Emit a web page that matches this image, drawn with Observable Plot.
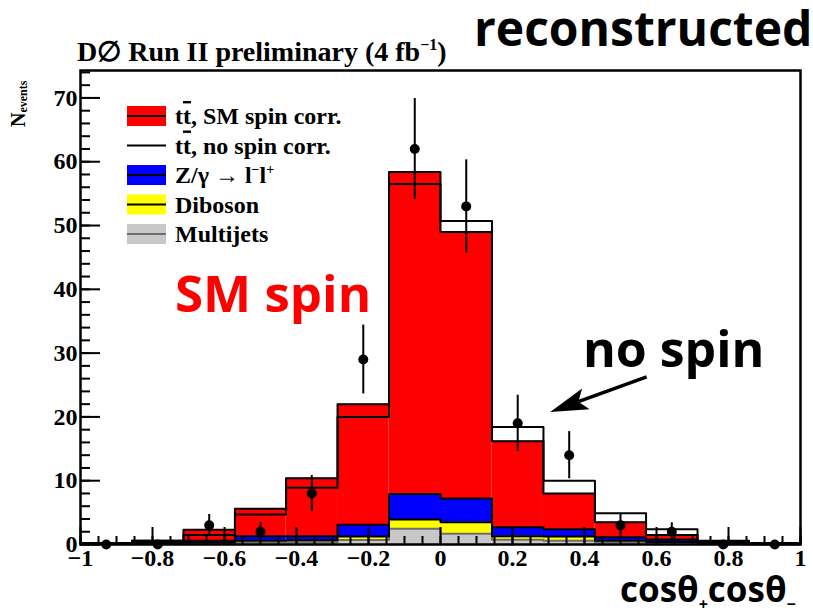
<!DOCTYPE html>
<html>
<head>
<meta charset="utf-8">
<script src="https://cdn.jsdelivr.net/npm/d3@7"></script>
<script src="https://cdn.jsdelivr.net/npm/@observablehq/plot@0.6"></script>
<style>
  body { margin: 0; background: #fff; }
  #chart { position: relative; width: 813px; height: 616px; }
</style>
</head>
<body>
<div id="chart"></div>
<script>
// Bin edges of cosθ+·cosθ− (14 bins)
const binEdges = [-1, -0.857, -0.714, -0.571, -0.429, -0.286, -0.143, 0, 0.143, 0.286, 0.429, 0.571, 0.714, 0.857, 1];

// Stacked predictions (events per bin), bottom to top
const layerNames = ["Multijets", "Diboson", "Z/γ → ll", "tt̄, SM spin corr."];
const layerColors = ["#c8c8c8", "#ffff00", "#0000ff", "#ff0000"];
const multijets   = [0.05, 0.1, 0.15, 0.3, 0.35, 0.7, 2.45, 1.7, 0.75, 0.6, 0.3, 0.2, 0.05, 0.02];
const diboson     = [0.05, 0.1, 0.15, 0.3, 0.3, 0.55, 1.45, 1.8, 0.55, 0.65, 0.3, 0.2, 0.05, 0.03];
const zgamma      = [0.05, 0.2, 0.3, 0.7, 0.65, 1.85, 4.0, 3.7, 1.4, 1.15, 0.55, 0.4, 0.15, 0.05];
const ttbarSM     = [0.1, 0.2, 1.7, 4.3, 9.1, 18.9, 50.5, 41.8, 13.5, 5.6, 2.35, 0.7, 0.25, 0.1];
const ttbarNoSpin = [0.1, 0.2, 0.9, 3.4, 7.6, 16.9, 48.6, 43.5, 15.7, 7.6, 3.75, 1.6, 0.35, 0.15];

// Observed events and their uncertainties
const dataCounts = [0, 0, 3, 2, 8, 29, 62, 53, 19, 14, 3, 2, 0, 0];
const dataErrors = [0, 0, 1.7, 1.4, 2.8, 5.4, 7.9, 7.3, 4.4, 3.7, 1.7, 1.4, 0, 0];

// Axis ticks
const xTicks = [-1, -0.8, -0.6, -0.4, -0.2, 0, 0.2, 0.4, 0.6, 0.8, 1];
const yTicks = [0, 10, 20, 30, 40, 50, 60, 70];
const xMinor = d3.range(-1, 1.0001, 0.05);
const yMinor = d3.range(0, 74.3, 2);

// Annotations (data coordinates)
const smLabel = {text: "SM spin", x: -0.736, y: 36.4};
const noSpinLabel = {text: "no spin", x: 0.397, y: 27.8};
const noSpinArrow = {x1: 0.574, y1: 26.2, x2: 0.306, y2: 20.7};

const W = 813, H = 616;
const mL = 80, mR = 13, mT = 70, mB = 72;
const innerW = W - mL - mR, innerH = H - mT - mB;

// Stacked rectangles
const series = [multijets, diboson, zgamma, ttbarSM];
const rects = [];
let base = binEdges.slice(0, -1).map(() => 0);
const cumTops = [];
series.forEach((vals, k) => {
  const top = base.map((b, i) => b + vals[i]);
  vals.forEach((v, i) => rects.push({layer: layerNames[k], x1: binEdges[i], x2: binEdges[i + 1], y1: base[i], y2: top[i]}));
  cumTops.push(top);
  base = top;
});
const bgTop = cumTops[2];
const noSpinTop = bgTop.map((b, i) => b + ttbarNoSpin[i]);

function steps(name, tops) {
  return [...tops.map((t, i) => ({name, x: binEdges[i], y: t})), {name, x: binEdges[binEdges.length - 1], y: tops[tops.length - 1]}];
}
const greySteps = steps("mj", cumTops[0]);
const blackSteps = [
  ...steps("vv", cumTops[1]),
  ...steps("z", cumTops[2]),
  ...steps("sm", cumTops[3]),
  ...steps("nospin", noSpinTop)
];

const points = dataCounts.map((n, i) => ({x: (binEdges[i] + binEdges[i + 1]) / 2, n, e: dataErrors[i]}));

const serif = "'Liberation Serif', 'Times New Roman', serif";
const fmt = d => String(d).replace("-", "−");

const chart = Plot.plot({
  width: W, height: H,
  marginLeft: mL, marginRight: mR, marginTop: mT, marginBottom: mB,
  x: {domain: [-1, 1], axis: null, label: null},
  y: {domain: [0, 74.3], axis: null, label: null},
  color: {domain: layerNames, range: layerColors},
  style: {fontFamily: serif, background: "#fff", color: "#000"},
  marks: [
    Plot.rect(rects, {x1: "x1", x2: "x2", y1: "y1", y2: "y2", fill: "layer"}),
    Plot.line(greySteps, {x: "x", y: "y", stroke: "#6e6e6e", strokeWidth: 2, curve: "step-after"}),
    Plot.line(blackSteps, {x: "x", y: "y", z: "name", stroke: "#000", strokeWidth: 2, curve: "step-after"}),
    Plot.tickX(xMinor, {x: d => d, insetTop: innerH - 8, stroke: "#000", strokeWidth: 2}),
    Plot.tickX(xTicks, {x: d => d, insetTop: innerH - 17, stroke: "#000", strokeWidth: 2}),
    Plot.tickY(yMinor, {y: d => d, insetRight: innerW - 10, stroke: "#000", strokeWidth: 2}),
    Plot.tickY(yTicks, {y: d => d, insetRight: innerW - 20, stroke: "#000", strokeWidth: 2}),
    Plot.ruleX(points.filter(d => d.n > 0), {x: "x", y1: d => d.n - d.e, y2: d => d.n + d.e, stroke: "#000", strokeWidth: 2}),
    Plot.dot(points, {x: "x", y: "n", r: 5, fill: "#000"}),
    Plot.axisX(xTicks, {tickSize: 0, tickPadding: 4, fontSize: 24, fontWeight: "bold", fontFamily: serif, tickFormat: fmt, label: null}),
    Plot.axisY(yTicks, {tickSize: 0, tickPadding: 3, fontSize: 24, fontWeight: "bold", fontFamily: serif, tickFormat: fmt, label: null}),
    Plot.frame({stroke: "#000", strokeWidth: 2.5})
  ]
});

document.getElementById("chart").appendChild(chart);

const svg = d3.select(chart);
const sx = chart.scale("x"), sy = chart.scale("y");
const sans = "'Open Sans', 'Noto Sans', sans-serif";

// Title
const title = svg.append("text").attr("x", 77).attr("y", 61).attr("text-anchor", "start")
  .attr("font-family", serif).attr("font-weight", "bold").attr("font-size", 28).attr("fill", "#000");
title.append("tspan").text("D∅ Run II preliminary (4 fb");
title.append("tspan").attr("font-size", 16).attr("dy", -11).text("−1");
title.append("tspan").attr("dy", 11).text(")");

svg.append("text").attr("x", 474).attr("y", 46).attr("text-anchor", "start")
  .attr("font-family", sans).attr("font-weight", 700).attr("font-size", 48).attr("fill", "#000")
  .text("reconstructed");

// Y label
const yl = svg.append("text").attr("transform", "translate(25,127) rotate(-90)").attr("text-anchor", "start")
  .attr("font-family", serif).attr("font-weight", "bold").attr("font-size", 20).attr("fill", "#000");
yl.append("tspan").text("N");
yl.append("tspan").attr("font-size", 12).attr("dy", 2).text("events");

// X label
const xl = svg.append("text").attr("x", 620).attr("y", 602).attr("text-anchor", "start")
  .attr("font-family", sans).attr("font-weight", 700).attr("font-size", 35).attr("fill", "#000");
xl.append("tspan").text("cosθ");
xl.append("tspan").attr("font-size", 16).attr("dy", 8).text("+");
xl.append("tspan").attr("dy", -8).text("cosθ");
xl.append("tspan").attr("font-size", 16).attr("dy", 8).text("−");

// Annotations
svg.append("text").attr("x", sx.apply(smLabel.x)).attr("y", sy.apply(smLabel.y)).attr("text-anchor", "start")
  .attr("font-family", sans).attr("font-weight", 700).attr("font-size", 51).attr("fill", "#ff0000")
  .text(smLabel.text);
svg.append("text").attr("x", sx.apply(noSpinLabel.x)).attr("y", sy.apply(noSpinLabel.y)).attr("text-anchor", "start")
  .attr("font-family", sans).attr("font-weight", 700).attr("font-size", 50).attr("fill", "#000")
  .text(noSpinLabel.text);
{
  const ax1 = sx.apply(noSpinArrow.x1), ay1 = sy.apply(noSpinArrow.y1);
  const ax2 = sx.apply(noSpinArrow.x2), ay2 = sy.apply(noSpinArrow.y2);
  const len = Math.hypot(ax2 - ax1, ay2 - ay1);
  const ux = (ax2 - ax1) / len, uy = (ay2 - ay1) / len;
  const hl = 38, hw = 11;
  const bx = ax2 - ux * hl, by = ay2 - uy * hl;
  const nx = bx + ux * 8, ny = by + uy * 8;
  svg.append("line").attr("x1", ax1).attr("y1", ay1).attr("x2", nx).attr("y2", ny)
    .attr("stroke", "#000").attr("stroke-width", 3.5);
  svg.append("path")
    .attr("d", `M${ax2},${ay2}L${bx - uy * hw},${by + ux * hw}L${nx},${ny}L${bx + uy * hw},${by - ux * hw}Z`)
    .attr("fill", "#000");
}

// Legend
const legend = svg.append("g").attr("text-anchor", "start").attr("font-family", serif).attr("font-weight", "bold").attr("font-size", 24).attr("fill", "#000");
const legendRows = [
  {fill: "#ff0000", line: "#000", parts: [["t"], ["t", "bar"], [", SM spin corr."]]},
  {fill: null, line: "#000", parts: [["t"], ["t", "bar"], [", no spin corr."]]},
  {fill: "#0000ff", line: "#000", parts: [["Z/γ → l"], ["−", "sup"], ["l"], ["+", "sup"]]},
  {fill: "#ffff00", line: "#000", parts: [["Diboson"]]},
  {fill: "#c8c8c8", line: "#6e6e6e", parts: [["Multijets"]]}
];
legendRows.forEach((r, i) => {
  const cy = 116 + i * 29.5;
  if (r.fill) legend.append("rect").attr("x", 127).attr("y", cy - 10).attr("width", 39).attr("height", 20).attr("fill", r.fill);
  legend.append("line").attr("x1", 127).attr("x2", 166).attr("y1", cy).attr("y2", cy).attr("stroke", r.line).attr("stroke-width", 2);
  const t = legend.append("text").attr("x", 175).attr("y", cy + 8);
  let shifted = false;
  r.parts.forEach(([s, kind]) => {
    const ts = t.append("tspan").text(s);
    if (kind === "bar") ts.attr("text-decoration", "overline");
    if (kind === "sup") { ts.attr("font-size", 14).attr("dy", shifted ? 0 : -9); shifted = true; }
    else if (shifted) { ts.attr("dy", 9); shifted = false; }
  });
});
</script>
</body>
</html>
